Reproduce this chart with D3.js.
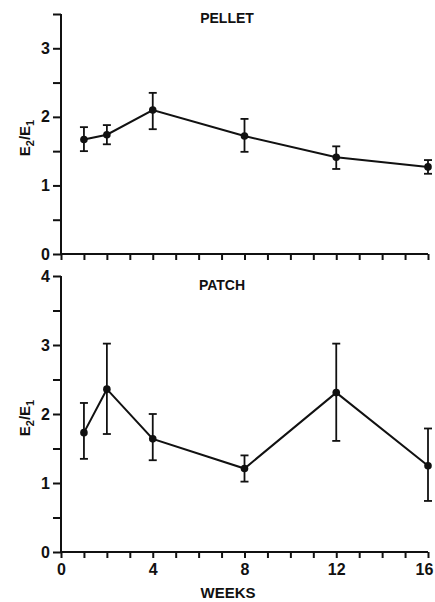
<!DOCTYPE html>
<html>
<head>
<meta charset="utf-8">
<script src="https://cdn.jsdelivr.net/npm/d3@7"></script>
<style>
  body { margin: 0; background: #fff; }
  svg text { font-family: "Liberation Sans", Arial, sans-serif; fill: #111; }
</style>
</head>
<body>
<div id="chart"></div>
<script>
// weeks of treatment
const weeks = [1, 2, 4, 8, 12, 16];

// PELLET: mean E2/E1 ratio with error bar ends
const pelletMean  = [1.67, 1.74, 2.10, 1.72, 1.41, 1.27];
const pelletUpper = [1.85, 1.88, 2.35, 1.97, 1.57, 1.37];
const pelletLower = [1.50, 1.60, 1.82, 1.49, 1.24, 1.17];

// PATCH
const patchMean  = [1.73, 2.36, 1.64, 1.21, 2.31, 1.25];
const patchUpper = [2.16, 3.02, 2.00, 1.40, 3.02, 1.79];
const patchLower = [1.35, 1.71, 1.33, 1.02, 1.61, 0.74];

const xTickLabels = [0, 4, 8, 12, 16];

const W = 435, H = 602;
const svg = d3.select("#chart").append("svg")
  .attr("width", W).attr("height", H);

const x = d3.scaleLinear().domain([0, 16]).range([61, 428]);

const panels = [
  { title: "PELLET", mean: pelletMean, upper: pelletUpper, lower: pelletLower,
    yMax: 3.5, range: [254, 14], titleX: 227, titleY: 23, showX: false },
  { title: "PATCH", mean: patchMean, upper: patchUpper, lower: patchLower,
    yMax: 4, range: [552, 276], titleX: 222, titleY: 290, showX: true }
];

panels.forEach(p => {
  const y = d3.scaleLinear().domain([0, p.yMax]).range(p.range);
  const g = svg.append("g");

  // y axis: minor ticks every 0.5, labels on integers
  const yAxis = d3.axisLeft(y)
    .tickValues(d3.range(0, p.yMax + 0.01, 0.5))
    .tickSize(8)
    .tickPadding(3)
    .tickFormat(d => Number.isInteger(d) ? d : "");
  g.append("g")
    .attr("transform", `translate(${x(0)},0)`)
    .call(yAxis)
    .call(a => a.select(".domain").attr("d", `M0,${p.range[0]}V${p.range[1]}`))
    .call(a => a.selectAll("line, path").attr("stroke", "#111").attr("stroke-width", 2))
    .call(a => a.selectAll("text").attr("font-size", 16).attr("font-weight", "bold"));

  // x axis: ticks every week
  const xAxis = d3.axisBottom(x)
    .tickValues(d3.range(0, 17, 1))
    .tickSize(6)
    .tickPadding(6)
    .tickFormat(d => (p.showX && xTickLabels.includes(d)) ? d : "");
  g.append("g")
    .attr("transform", `translate(0,${y(0)})`)
    .call(xAxis)
    .call(a => a.select(".domain").attr("d", `M${x(0)},0H${x(16)}`))
    .call(a => a.selectAll("line, path").attr("stroke", "#111").attr("stroke-width", 2))
    .call(a => a.selectAll("text").attr("font-size", 16).attr("font-weight", "bold"))
    .call(a => a.selectAll(".tick text").filter(d => d === 16).attr("dx", -4));

  const pts = weeks.map((w, i) => ({ w, m: p.mean[i], hi: p.upper[i], lo: p.lower[i] }));

  // connecting line
  g.append("path")
    .datum(pts)
    .attr("fill", "none")
    .attr("stroke", "#111")
    .attr("stroke-width", 2)
    .attr("d", d3.line().x(d => x(d.w)).y(d => y(d.m)));

  // error bars
  const eb = g.selectAll(".eb").data(pts).enter().append("g")
    .attr("stroke", "#111").attr("stroke-width", 1.8);
  eb.append("line")
    .attr("x1", d => x(d.w)).attr("x2", d => x(d.w))
    .attr("y1", d => y(d.hi)).attr("y2", d => y(d.lo));
  eb.append("line")
    .attr("x1", d => x(d.w) - 4).attr("x2", d => x(d.w) + 4)
    .attr("y1", d => y(d.hi)).attr("y2", d => y(d.hi));
  eb.append("line")
    .attr("x1", d => x(d.w) - 4).attr("x2", d => x(d.w) + 4)
    .attr("y1", d => y(d.lo)).attr("y2", d => y(d.lo));

  // points
  g.selectAll("circle").data(pts).enter().append("circle")
    .attr("cx", d => x(d.w)).attr("cy", d => y(d.m))
    .attr("r", 3.8).attr("fill", "#111");

  // title
  g.append("text")
    .attr("x", p.titleX).attr("y", p.titleY)
    .attr("text-anchor", "middle")
    .attr("font-size", 14).attr("font-weight", "bold")
    .text(p.title);

  // y label E2/E1
  const cy = (p.range[0] + p.range[1]) / 2 + 4;
  const lab = g.append("text")
    .attr("transform", `translate(30,${cy}) rotate(-90)`)
    .attr("text-anchor", "middle")
    .attr("font-size", 15).attr("font-weight", "bold");
  lab.append("tspan").text("E");
  lab.append("tspan").attr("font-size", 11).attr("dy", 4).text("2");
  lab.append("tspan").attr("dy", -4).text("/E");
  lab.append("tspan").attr("font-size", 11).attr("dy", 4).text("1");
});

// x axis title
svg.append("text")
  .attr("x", 228).attr("y", 598)
  .attr("text-anchor", "middle")
  .attr("font-size", 15).attr("font-weight", "bold")
  .text("WEEKS");
</script>
</body>
</html>
